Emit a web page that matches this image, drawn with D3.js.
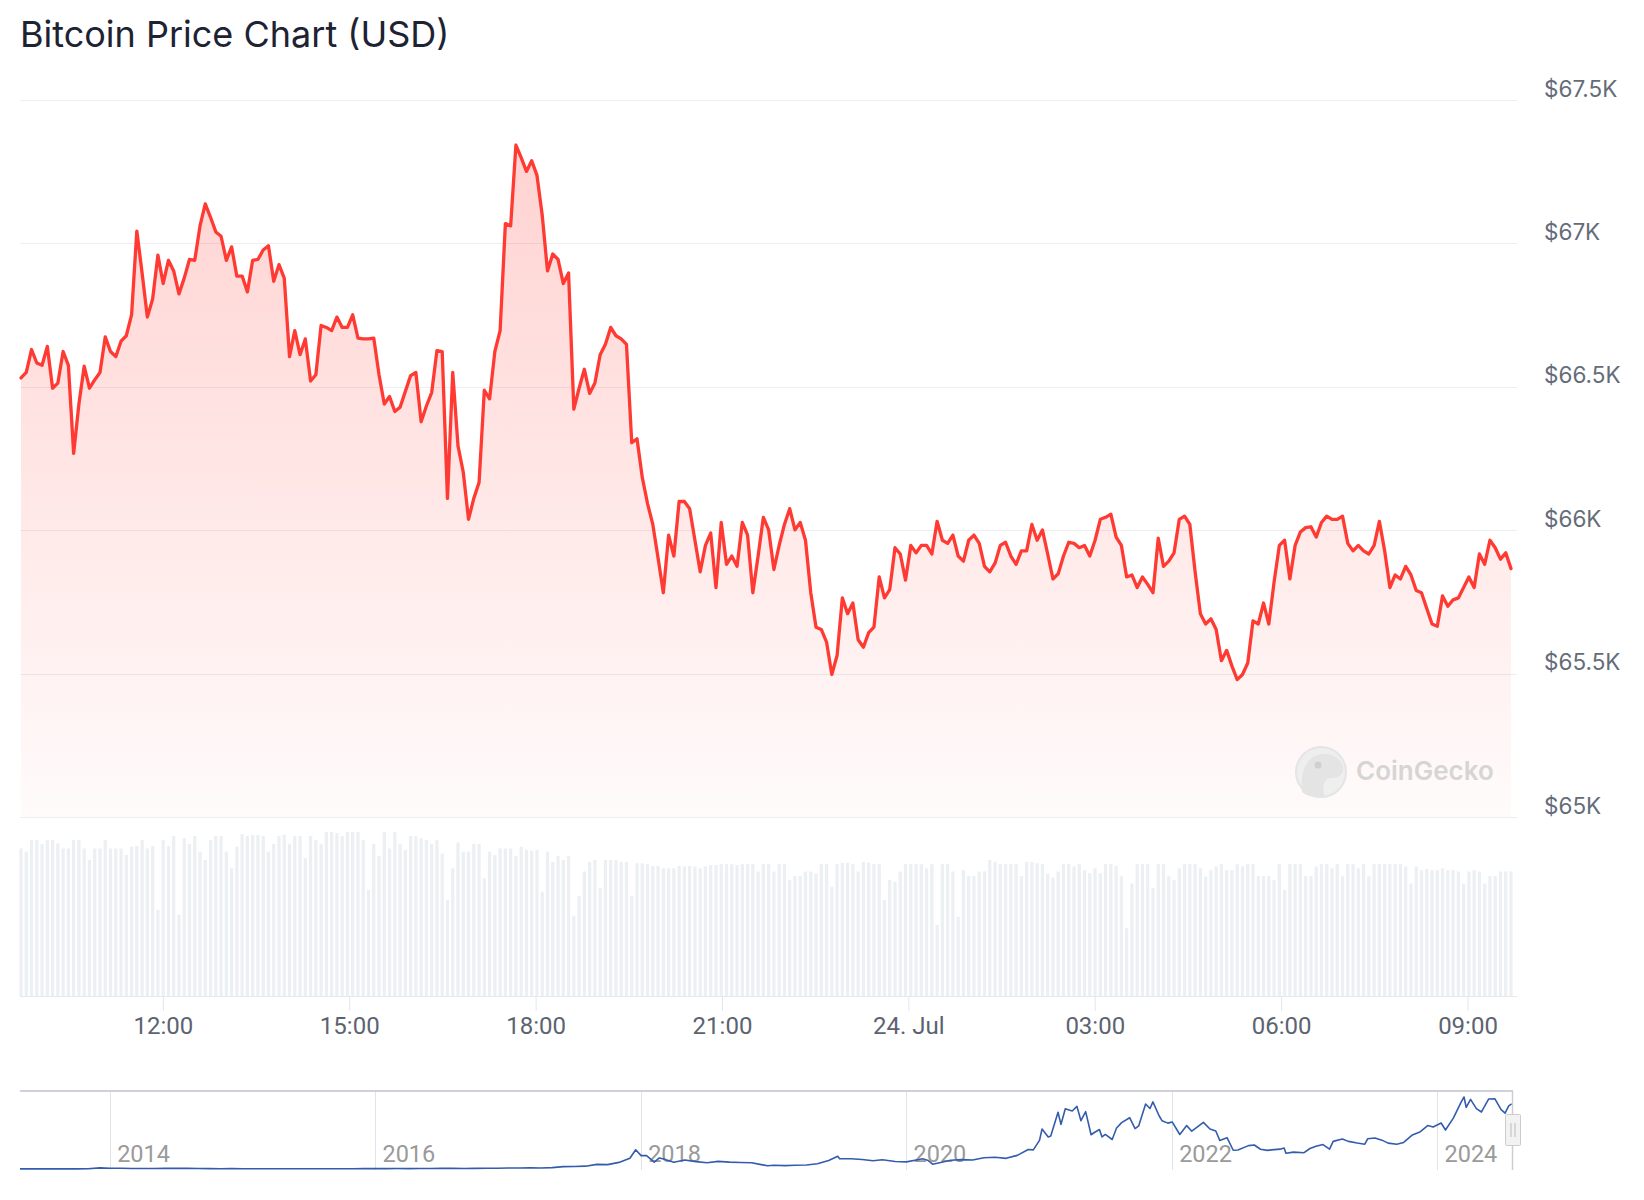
<!DOCTYPE html>
<html>
<head>
<meta charset="utf-8">
<script src="https://cdn.jsdelivr.net/npm/d3@7"></script>
<style>
  html, body { margin: 0; padding: 0; background: #fff; }
  svg { display: block; }
</style>
</head>
<body>
<div id="chart"></div>
<script>
// 24h price (USD), roughly one reading every 5 minutes
const prices = [
  66531, 66550, 66630, 66583, 66575, 66641, 66495, 66513, 66623, 66575, 66268, 66440, 66572, 66495, 66524, 66550,
  66674, 66623, 66605, 66659, 66678, 66751, 67043, 66897, 66743, 66806, 66959, 66860, 66941, 66904, 66824, 66879, 66944, 66941, 67061, 67138,
  67091, 67040, 67025, 66941, 66988, 66886, 66886, 66831, 66941, 66944, 66977, 66992, 66868, 66926, 66879, 66605, 66696, 66612, 66667, 66520,
  66542, 66714, 66707, 66696, 66743, 66707, 66707, 66751, 66670, 66667, 66667, 66670, 66542, 66440, 66466, 66414, 66429, 66484, 66539, 66550,
  66378, 66433, 66480, 66626, 66623, 66111, 66550, 66294, 66202, 66038,
  66111, 66166, 66488, 66458, 66623, 66696, 67069, 67061,
  67343, 67299, 67251, 67288, 67237, 67098, 66904, 66963, 66944, 66860, 66897,
  66422, 66495, 66561, 66477, 66513, 66612, 66648, 66707, 66678, 66667, 66648, 66305, 66319, 66184, 66093, 66020, 65903, 65782, 65983, 65910,
  66100, 66100, 66075, 65965, 65855, 65947, 65990, 65800, 66027, 65881, 65910, 65874, 66027, 65983, 65782, 65910, 66045, 66001, 65863, 65947,
  66020, 66075, 66001, 66027, 65965, 65782, 65662, 65654, 65610,
  65497,
  65563, 65764, 65709, 65746, 65618, 65592, 65643, 65662, 65837, 65764,
  65793, 65939, 65917, 65826, 65947, 65921, 65947, 65947, 65917, 66031,
  65965, 65954, 65983, 65910, 65892, 65965, 65983, 65954, 65874, 65855,
  65885, 65947, 65958, 65910, 65881, 65928, 65928, 66020, 65965, 66001,
  65917, 65830, 65848, 65910, 65958, 65954, 65939, 65947, 65910, 65965,
  66038, 66045, 66056, 65976, 65947, 65837, 65844, 65800, 65837, 65811,
  65782, 65972, 65874, 65892, 65921, 66038, 66049, 66020, 65855, 65709,
  65673, 65691, 65654, 65545, 65581, 65526, 65479, 65497, 65537, 65684,
  65673, 65746, 65673, 65819, 65947, 65965, 65830, 65947, 65994, 66009,
  66012, 65976, 66027, 66049, 66038, 66038, 66049, 65954, 65928, 65947,
  65928, 65917, 65947, 66031, 65928, 65800, 65844, 65830, 65874, 65844,
  65790, 65782, 65727, 65673, 65665, 65771, 65735, 65757, 65764, 65800,
  65837, 65800, 65917, 65881, 65965, 65939, 65899, 65921, 65866
];

// 24h rolling volume (billion USD), one bar per price reading
const volumes = [
  32.0, 31.3, 33.8, 33.8, 33.0, 33.8, 33.8, 33.1, 32.0, 32.0,
  33.8, 33.8, 32.0, 29.5, 32.0, 32.0, 33.8, 32.0, 32.0, 32.0, 30.6,
  32.4, 32.5, 33.8, 32.0, 32.5, 18.7, 33.8, 32.5, 34.7, 17.6,
  34.2, 33.0, 34.7, 31.3, 29.5, 33.8, 34.7, 34.7, 31.3, 27.7,
  32.4, 35.1, 34.7, 34.9, 34.9, 34.7, 31.3, 33.0, 34.7, 35.0,
  33.0, 34.7, 34.7, 29.9, 34.7, 33.8, 33.0, 35.6, 35.6, 35.3,
  34.7, 35.6, 35.6, 35.6, 33.8, 23.0, 33.0, 30.4, 35.6, 32.0,
  35.6, 33.0, 31.7, 34.7, 34.7, 34.2, 33.8, 33.0, 33.8, 30.9,
  20.8, 27.7, 33.3, 31.3, 31.3, 33.0, 33.0, 25.5, 31.3, 30.6,
  32.0, 32.0, 32.0, 30.4, 32.4, 31.7, 31.5,
  31.7, 22.6, 31.3, 29.1, 30.4, 29.5, 30.4, 17.4, 21.7, 27.0,
  29.1, 29.5, 23.4, 29.5, 29.5, 29.5, 29.1, 29.1, 21.7, 28.8,
  28.8, 28.6, 28.2, 28.2, 27.7, 27.7, 27.7, 28.2, 28.1, 28.2,
  28.1, 27.7, 28.1, 28.4, 28.4, 28.6, 28.6, 28.6, 28.4, 28.6,
  28.6, 28.6, 27.0, 28.6, 28.6, 27.0, 28.6, 28.6, 25.2,
  26.0, 26.0, 27.0, 27.0, 26.6, 28.6, 28.6, 23.7, 28.6, 28.9,
  28.9, 28.6, 27.0, 29.1, 28.9, 28.6, 28.6, 20.8, 25.2, 24.8,
  27.0, 28.6, 28.6, 28.6, 28.6, 27.7, 28.6, 15.4, 28.6, 28.6,
  27.0, 17.2, 27.3, 26.0, 26.0, 27.0, 27.0, 29.5, 29.1, 28.6,
  28.6, 28.6, 28.6, 26.0, 29.1,
  29.1, 28.8, 28.6, 26.5, 25.7, 27.0, 28.6, 28.6, 28.1, 28.6,
  27.3, 26.6, 27.7, 26.6, 28.6, 28.6, 28.2, 26.0, 14.7, 24.4,
  28.6, 28.6, 28.6, 23.4, 28.6, 28.6, 26.0, 25.2, 27.7, 28.6,
  28.6, 28.6, 27.7, 25.9, 27.3, 28.1, 28.6, 27.3, 27.3, 28.6,
  28.1, 28.6, 28.6, 26.0, 26.0, 26.0, 25.2, 28.6, 23.0, 28.6,
  28.6, 28.6, 26.0, 26.0, 28.1, 28.6, 28.6, 27.7, 28.6, 26.0,
  28.6, 28.6, 27.7, 28.6, 26.0, 28.6, 28.6, 28.6, 28.6, 28.6,
  28.6, 28.1, 24.4, 28.1, 27.3, 27.5, 27.3, 27.3, 27.7, 27.3,
  27.3, 27.0, 24.4, 27.0, 27.3, 27.0, 24.4, 26.0, 26.0, 27.0,
  27.0, 27.0
];

const priceTicks = [65000, 65500, 66000, 66500, 67000, 67500];
const startTime = "2024-07-23T09:43:00Z";
const endTime = "2024-07-24T09:42:00Z";

// all-time navigator series
const navDates = [
  "2013-04-28", "2013-06-01", "2013-07-01", "2013-08-01", "2013-09-01", "2013-10-01", "2013-11-01", "2013-12-04",
  "2014-01-01", "2014-02-01", "2014-03-01", "2014-04-01", "2014-05-01", "2014-06-01", "2014-07-01", "2014-08-01",
  "2014-09-01", "2014-10-01", "2014-11-01", "2014-12-01", "2015-01-01", "2015-02-01", "2015-03-01", "2015-04-01",
  "2015-05-01", "2015-06-01", "2015-07-01", "2015-08-01", "2015-09-01", "2015-10-01", "2015-11-01", "2015-12-01",
  "2016-01-01", "2016-02-01", "2016-03-01", "2016-04-01", "2016-05-01", "2016-06-01", "2016-07-01", "2016-08-01",
  "2016-09-01", "2016-10-01", "2016-11-01", "2016-12-01", "2017-01-01", "2017-02-01", "2017-03-01", "2017-04-01",
  "2017-05-01", "2017-06-01", "2017-07-01", "2017-08-01", "2017-09-01", "2017-10-01", "2017-11-01", "2017-12-01",
  "2017-12-17", "2018-01-01", "2018-01-15", "2018-02-06", "2018-02-20", "2018-03-01", "2018-04-01", "2018-05-01",
  "2018-06-01", "2018-07-01", "2018-08-01", "2018-09-01", "2018-10-01", "2018-11-01", "2018-12-01", "2018-12-15",
  "2019-01-01", "2019-02-01", "2019-03-01", "2019-04-01", "2019-05-01", "2019-06-01", "2019-06-26", "2019-07-01",
  "2019-08-01", "2019-09-01", "2019-10-01", "2019-10-26", "2019-11-01", "2019-12-01", "2020-01-01", "2020-02-01",
  "2020-02-14", "2020-03-01", "2020-03-13", "2020-04-01", "2020-05-01", "2020-06-01", "2020-07-01", "2020-08-01",
  "2020-09-01", "2020-10-01", "2020-11-01", "2020-12-01", "2020-12-15", "2021-01-01", "2021-01-08", "2021-01-25",
  "2021-02-01", "2021-02-21", "2021-03-01", "2021-03-13", "2021-04-01", "2021-04-14", "2021-04-25", "2021-05-08",
  "2021-05-23", "2021-06-01", "2021-06-15", "2021-06-22", "2021-07-01", "2021-07-20", "2021-08-01", "2021-08-15",
  "2021-09-06", "2021-09-21", "2021-10-01", "2021-10-20", "2021-11-01", "2021-11-09", "2021-11-26", "2021-12-04",
  "2021-12-20", "2022-01-01", "2022-01-22", "2022-02-10", "2022-02-24", "2022-03-28", "2022-04-15", "2022-05-01",
  "2022-05-12", "2022-06-01", "2022-06-18", "2022-07-01", "2022-07-30", "2022-08-15", "2022-09-01", "2022-09-20",
  "2022-10-01", "2022-10-25", "2022-11-05", "2022-11-10", "2022-12-01", "2022-12-30", "2023-01-15", "2023-02-01",
  "2023-02-20", "2023-03-10", "2023-03-20", "2023-04-14", "2023-05-01", "2023-05-25", "2023-06-15", "2023-06-23",
  "2023-07-13", "2023-08-01", "2023-08-18", "2023-09-11", "2023-09-30", "2023-10-24", "2023-11-15", "2023-12-05",
  "2023-12-20", "2024-01-11", "2024-01-23", "2024-02-14", "2024-03-05", "2024-03-14", "2024-03-20", "2024-04-01",
  "2024-04-17", "2024-05-01", "2024-05-21", "2024-06-07", "2024-06-24", "2024-07-05", "2024-07-15", "2024-07-23"
];
const navPrices = [
  135, 129, 97, 106, 141, 133, 203, 1150,
  750, 830, 560, 470, 450, 630, 640, 590,
  480, 390, 325, 380, 315, 225, 255, 245,
  235, 225, 260, 280, 230, 236, 315, 375,
  430, 370, 435, 415, 450, 530, 675, 625,
  572, 610, 700, 755, 970, 970, 1190, 1080,
  1420, 2400, 2500, 2870, 4700, 4400, 6700, 10900,
  19500, 13600, 13700, 6900, 11200, 10400, 6900, 9200,
  7500, 6400, 7700, 7000, 6600, 6300, 4200, 3250,
  3800, 3450, 3820, 4100, 5350, 8550, 12900, 10500,
  10400, 9600, 8300, 9400, 9200, 7550, 7200, 9350,
  10300, 8600, 4900, 6400, 8800, 9500, 9150, 11350,
  11900, 10800, 13800, 19700, 19400, 29000, 40500, 32500,
  33500, 57500, 45200, 61000, 58800, 63500, 49000, 58200,
  34700, 37000, 40000, 32500, 35000, 29900, 41500, 47000,
  52000, 41000, 43800, 65900, 61300, 68000, 54000, 49000,
  46500, 47700, 35000, 44000, 38300, 47300, 40500, 38500,
  29000, 31800, 19000, 19300, 23700, 24300, 20050, 18900,
  19400, 20100, 21300, 16000, 17100, 16550, 20800, 23100,
  24800, 20100, 28000, 30500, 28000, 26300, 25100, 30600,
  31400, 29250, 26200, 25100, 26900, 34500, 37800, 44000,
  42600, 46600, 39500, 51800, 67000, 73000, 62500, 70600,
  61200, 57800, 71000, 71100, 60200, 56600, 64000, 66000
];

const width = 1644;
const height = 1200;
const lineRed = "#ff3a33";

const svg = d3.select("#chart")
    .append("svg")
    .attr("width", width)
    .attr("height", height);

// Title
svg.append("text")
    .attr("x", 20)
    .attr("y", 47)
    .text("Bitcoin Price Chart (USD)")
    .style("font-family", "Inter, 'Noto Sans', sans-serif")
    .style("font-size", "36px")
    .style("fill", "#1d2333");

// Scales
const t0 = new Date(startTime);
const t1 = new Date(endTime);
const times = prices.map((p, i) => new Date(+t0 + i * (t1 - t0) / (prices.length - 1)));

const x = d3.scaleUtc().domain([t0, t1]).range([21, 1511]);
const y = d3.scaleLinear().domain([65000, 67500]).range([817, 100]);
const yVol = d3.scaleLinear().domain([0, 36]).range([996, 830]);

// Gridlines
svg.append("g")
    .selectAll("line")
    .data(priceTicks)
    .join("line")
    .attr("x1", 20)
    .attr("x2", 1517)
    .attr("y1", d => Math.round(y(d)) + 0.5)
    .attr("y2", d => Math.round(y(d)) + 0.5)
    .attr("stroke", "#eceef1")
    .attr("stroke-width", 1);

// Y labels on the right
const yAxis = svg.append("g")
    .attr("transform", "translate(1544,0)")
    .call(d3.axisRight(y).tickValues(priceTicks).tickSize(0).tickPadding(0)
        .tickFormat(d => "$" + d3.format("~g")(d / 1000) + "K"));
yAxis.select(".domain").remove();
yAxis.selectAll("text")
    .attr("dy", null)
    .attr("y", -4)
    .style("font-family", "Inter, 'Noto Sans', sans-serif")
    .style("font-size", "22.5px")
    .style("fill", "#646c79");

// Volume bars
svg.append("g")
    .selectAll("rect")
    .data(volumes)
    .join("rect")
    .attr("x", (d, i) => x(times[i]) - 1.65)
    .attr("width", 3.3)
    .attr("y", d => yVol(d))
    .attr("height", d => yVol(0) - yVol(d))
    .attr("fill", "#edf0f3");

// Area gradient
const defs = svg.append("defs");
const grad = defs.append("linearGradient")
    .attr("id", "areaFill")
    .attr("gradientUnits", "userSpaceOnUse")
    .attr("x1", 0).attr("x2", 0)
    .attr("y1", y(67500)).attr("y2", y(65000));
grad.append("stop").attr("offset", 0).attr("stop-color", lineRed).attr("stop-opacity", 0.24);
grad.append("stop").attr("offset", 1).attr("stop-color", lineRed).attr("stop-opacity", 0.02);

const area = d3.area()
    .x((d, i) => x(times[i]))
    .y0(y(65000))
    .y1(d => y(d));

svg.append("path")
    .datum(prices)
    .attr("d", area)
    .attr("fill", "url(#areaFill)");

// Watermark
const wm = svg.append("g").attr("opacity", 0.9).attr("transform", "translate(18,0)");
wm.append("circle")
    .attr("cx", 1303).attr("cy", 772).attr("r", 25)
    .attr("fill", "#eeeeee").attr("stroke", "#e3e3e3").attr("stroke-width", 2);
wm.append("path")
    .attr("d", "M1284,792 C1282,772 1288,756 1304,754 C1316,753 1324,760 1325,768 C1326,775 1320,778 1312,778 C1306,779 1304,786 1306,796 C1298,798 1290,797 1284,792 Z")
    .attr("fill", "#e2e2e2");
wm.append("circle")
    .attr("cx", 1300).attr("cy", 765).attr("r", 3.5)
    .attr("fill", "#cbcbcb");
wm.append("text")
    .attr("x", 1338)
    .attr("y", 780)
    .text("CoinGecko")
    .style("font-family", "Inter, 'Noto Sans', sans-serif")
    .style("font-size", "26px")
    .style("font-weight", 600)
    .style("fill", "#d2d2d2");

// Price line
const line = d3.line()
    .x((d, i) => x(times[i]))
    .y(d => y(d));

svg.append("path")
    .datum(prices)
    .attr("d", line)
    .attr("fill", "none")
    .attr("stroke", lineRed)
    .attr("stroke-width", 3.3)
    .attr("stroke-linejoin", "round")
    .attr("stroke-linecap", "round");

// X axis
const hourFmt = d3.utcFormat("%H:%M");
const dayFmt = d3.utcFormat("%-d. %b");
const xAxis = svg.append("g")
    .attr("transform", "translate(0,996)")
    .call(d3.axisBottom(x)
        .ticks(d3.utcHour.every(3))
        .tickSize(15)
        .tickPadding(6)
        .tickFormat(d => d.getUTCHours() === 0 ? dayFmt(d) : hourFmt(d)));
xAxis.select(".domain")
    .attr("d", "M20,0.5H1517")
    .attr("stroke", "#e6e9ee");
xAxis.selectAll(".tick line").attr("stroke", "#e3e6ea");
xAxis.selectAll("text")
    .style("font-family", "Roboto, 'Noto Sans', sans-serif")
    .style("font-size", "24px")
    .style("fill", "#5c6370");

// Navigator
const navParse = d3.utcParse("%Y-%m-%d");
const navData = navDates.map((d, i) => ({ date: navParse(d), price: navPrices[i] }));
const xNav = d3.scaleUtc()
    .domain([navParse("2013-04-28"), navParse("2024-07-24")])
    .range([20, 1512]);
const yNav = d3.scaleLinear().domain([0, 74000]).range([1169, 1096]);

const years = xNav.ticks(d3.utcYear.every(2));
const nav = svg.append("g");

nav.selectAll(".yearLine")
    .data(years)
    .join("line")
    .attr("class", "yearLine")
    .attr("x1", d => Math.round(xNav(d)) + 0.5)
    .attr("x2", d => Math.round(xNav(d)) + 0.5)
    .attr("y1", 1091)
    .attr("y2", 1170)
    .attr("stroke", "#e1e3e8");

nav.selectAll(".yearLabel")
    .data(years)
    .join("text")
    .attr("class", "yearLabel")
    .attr("x", d => xNav(d) + 7)
    .attr("y", 1162)
    .text(d => d.getUTCFullYear())
    .style("font-family", "Roboto, 'Noto Sans', sans-serif")
    .style("font-size", "23.5px")
    .style("fill", "#9a9a9a");

nav.append("line")
    .attr("x1", 20).attr("x2", 1513)
    .attr("y1", 1091).attr("y2", 1091)
    .attr("stroke", "#cfd2da").attr("stroke-width", 2);

nav.append("path")
    .datum(navData)
    .attr("d", d3.line().x(d => xNav(d.date)).y(d => yNav(d.price)))
    .attr("fill", "none")
    .attr("stroke", "#335cad")
    .attr("stroke-width", 1.6)
    .attr("stroke-linejoin", "round");

// selected range edge + handle
nav.append("line")
    .attr("x1", 1512.5).attr("x2", 1512.5)
    .attr("y1", 1091).attr("y2", 1170)
    .attr("stroke", "#cccccc").attr("stroke-width", 1.5);
nav.append("rect")
    .attr("x", 1505.5).attr("y", 1114.5)
    .attr("width", 15).attr("height", 31)
    .attr("rx", 1)
    .attr("fill", "#f2f2f2").attr("stroke", "#cccccc");
nav.selectAll(".grip")
    .data([-2, 2])
    .join("line")
    .attr("class", "grip")
    .attr("x1", d => 1513 + d).attr("x2", d => 1513 + d)
    .attr("y1", 1123).attr("y2", 1137)
    .attr("stroke", "#bbbbbb");
</script>
</body>
</html>
